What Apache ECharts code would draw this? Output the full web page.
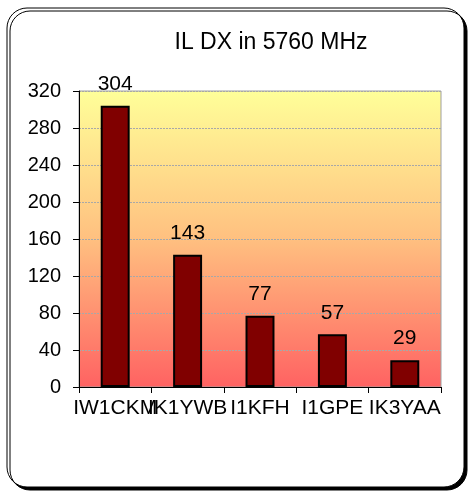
<!DOCTYPE html>
<html><head><meta charset="utf-8">
<script src="https://cdn.jsdelivr.net/npm/echarts@6/dist/echarts.min.js"></script>
<style>html,body{margin:0;padding:0;background:#fff}#c{width:470px;height:494px}</style>
</head><body><div id="c"></div>
<script>
const categories = ['IW1CKM', 'IK1YWB', 'I1KFH', 'I1GPE', 'IK3YAA'];
const values = [304, 143, 77, 57, 29];
const chartTitle = 'IL DX in 5760 MHz';
const yMin = 0, yMax = 320, yStep = 40;

const chart = echarts.init(document.getElementById('c'));
chart.setOption({
  animation: false,
  backgroundColor: '#fff',
  graphic: [{
    type: 'rect', z: -10, silent: true,
    shape: {x: 7, y: 8, width: 457, height: 479, r: 20},
    style: {fill: '#fff', stroke: '#000', lineWidth: 1, shadowColor: '#000', shadowOffsetX: 3, shadowOffsetY: 3, shadowBlur: 0}
  }],
  title: {
    text: chartTitle, left: 266, top: 26, textAlign: 'center',
    textStyle: {fontFamily: 'Liberation Sans', fontSize: 23, fontWeight: 'normal', color: '#000'}
  },
  grid: {
    left: 79, top: 91, right: 29, bottom: 107, show: true,
    borderColor: '#a0a0a0', borderWidth: 1,
    backgroundColor: new echarts.graphic.LinearGradient(0, 0, 0, 1, [
      {offset: 0, color: '#ffff99'},
      {offset: 0.5, color: '#ffc080'},
      {offset: 1, color: '#ff6262'}
    ])
  },
  xAxis: {
    type: 'category', data: categories,
    axisLine: {lineStyle: {color: '#000'}},
    axisTick: {show: true, length: 6, lineStyle: {color: '#000'}},
    axisLabel: {interval: 0, color: '#000', fontFamily: 'Liberation Sans', fontSize: 21, margin: 11}
  },
  yAxis: {
    type: 'value', min: yMin, max: yMax, interval: yStep,
    axisLine: {show: true, lineStyle: {color: '#000'}},
    axisTick: {show: true, length: 6, lineStyle: {color: '#000'}},
    axisLabel: {color: '#000', fontFamily: 'Liberation Sans', fontSize: 20, margin: 18},
    splitLine: {show: true, lineStyle: {color: '#a8a8a8', type: [2, 1]}}
  },
  series: [{
    type: 'bar', data: values, barWidth: '40%',
    itemStyle: {color: '#800000', borderColor: '#000', borderWidth: 2},
    label: {show: true, position: 'top', distance: 11, color: '#000', fontFamily: 'Liberation Sans', fontSize: 21}
  }]
});
</script></body></html>
